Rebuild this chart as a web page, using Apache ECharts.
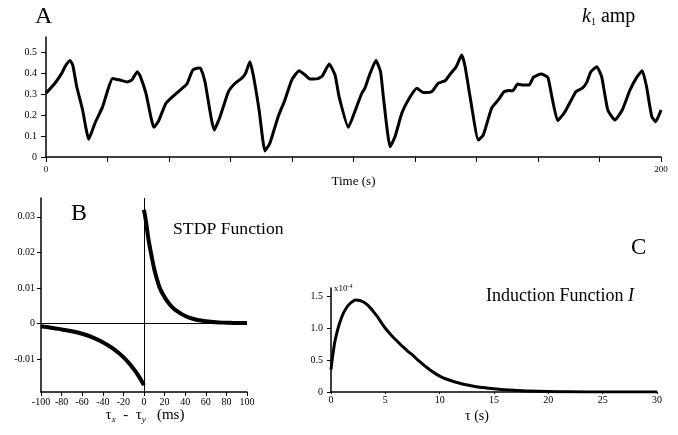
<!DOCTYPE html>
<html>
<head>
<meta charset="utf-8">
<script src="https://cdn.jsdelivr.net/npm/echarts@6/dist/echarts.min.js"></script>
<style>
  html, body { margin: 0; padding: 0; background: #fff; }
  #chart { width: 678px; height: 435px; }
</style>
</head>
<body>
<div id="chart"></div>
<script>
  // panel A: k1 amplitude over time
  var timeA = [0, 2.9, 5.1, 6.2, 7.8, 8.7, 10, 11.9, 13.9, 15.9, 18.4, 21.7, 24.1, 26.4, 27.9, 29.7, 30.6, 32.5, 35.1, 36.5,
    39, 41.4, 43.6, 45.8, 47.7, 49.5, 50.3, 51.7, 54.7, 56.6, 59.3, 61.5, 63.6, 64.9, 66.3, 67.4, 69.3, 71.2, 72.8, 75.5,
    77.7, 79.9, 82.3, 84, 85.9, 88.4, 89.9, 92.1, 94, 95.3, 98.3, 101, 102.7, 103.7, 105.4, 107.3, 108.8, 109.7, 111.9, 113.5,
    115.7, 117.8, 120.6, 122.7, 125.4, 127.6, 129.8, 131.4, 133.3, 135.2, 136.3, 137.9, 140.6, 142.2, 144.9, 147.1, 148.9, 150.5, 151.8, 153.4,
    155.2, 157.1, 158.5, 161, 163.2, 164.5, 166.4, 168.8, 172.3, 174.4, 175.8, 177.2, 179.1, 180.7, 182.7, 185, 187.4, 189.9, 192.1, 193.9,
    195.3, 197, 198.3, 200];
  var ampA = [0.305, 0.353, 0.40, 0.432, 0.461, 0.44, 0.336, 0.225, 0.085, 0.161, 0.24, 0.376, 0.368, 0.359, 0.368, 0.408, 0.388, 0.305, 0.142, 0.169,
    0.257, 0.292, 0.32, 0.349, 0.416, 0.426, 0.424, 0.36, 0.129, 0.193, 0.312, 0.353, 0.376, 0.40, 0.456, 0.392, 0.225, 0.029, 0.066, 0.193,
    0.273, 0.368, 0.413, 0.396, 0.373, 0.375, 0.388, 0.445, 0.392, 0.289, 0.142, 0.24, 0.305, 0.329, 0.40, 0.461, 0.408, 0.289, 0.049, 0.097,
    0.209, 0.273, 0.329, 0.308, 0.312, 0.353, 0.365, 0.396, 0.429, 0.488, 0.432, 0.289, 0.081, 0.105, 0.233, 0.273, 0.312, 0.318, 0.317, 0.349,
    0.344, 0.344, 0.381, 0.397, 0.381, 0.289, 0.174, 0.217, 0.312, 0.329, 0.356, 0.408, 0.432, 0.384, 0.225, 0.177, 0.225, 0.32, 0.381, 0.413,
    0.336, 0.193, 0.169, 0.225];
  var ticksA = [0, 0.1, 0.2, 0.3, 0.4, 0.5];

  // panel B: STDP function
  var lagNeg = [-100, -90, -80, -70, -60, -50, -40, -30, -20, -10, -5, 0];
  var stdpNeg = [-0.0008, -0.0012, -0.0017, -0.0022, -0.0029, -0.0039, -0.0053, -0.0071, -0.0095, -0.0128, -0.0149, -0.0174];
  var lagPos = [0, 2, 4, 6, 8, 10, 15, 20, 25, 30, 40, 50, 60, 70, 80, 90, 100];
  var stdpPos = [0.032, 0.0285, 0.0243, 0.021, 0.018, 0.0152, 0.0102, 0.0074, 0.0053, 0.0039, 0.0021, 0.0011, 0.0006, 0.0003, 0.0002, 0.0001, 0.0001];
  var ticksB = [-0.01, 0, 0.01, 0.02, 0.03];

  // panel C: induction function (x10^-4)
  var tauC = [0, 0.25, 0.5, 1, 1.5, 2, 2.3, 3, 4, 5, 6, 7, 7.5, 8, 9, 10, 11, 12, 13, 14, 15, 16, 17, 18, 20, 22, 25, 30];
  var indC = [0.35, 0.68, 0.9, 1.18, 1.34, 1.42, 1.44, 1.41, 1.24, 1.0, 0.81, 0.65, 0.58, 0.5, 0.36, 0.25, 0.18, 0.13, 0.095, 0.07,
    0.05, 0.035, 0.024, 0.016, 0.007, 0.003, 0.001, 0];
  var ticksC = [0, 0.5, 1.0, 1.5];

  var serif = "Liberation Serif";

  function pairs(xs, ys) {
    return xs.map(function (x, i) { return [x, ys[i]]; });
  }

  function axisBase(extra) {
    var base = {
      type: "value",
      splitLine: { show: false },
      axisLine: { show: true, onZero: false, lineStyle: { color: "#000", width: 1.5 } },
      axisTick: { show: true, length: 4, lineStyle: { color: "#000", width: 1 } },
      axisLabel: { color: "#000", fontFamily: serif, fontSize: 10, margin: 6 }
    };
    for (var k in extra) base[k] = extra[k];
    return base;
  }

  var chart = echarts.init(document.getElementById("chart"), null, { renderer: "canvas" });

  chart.setOption({
    animation: false,
    backgroundColor: "#fff",
    grid: [
      { left: 46, top: 37, width: 615, height: 120 },
      { left: 41, top: 198, width: 206, height: 194 },
      { left: 331, top: 288, width: 326, height: 104 }
    ],
    xAxis: [
      axisBase({
        gridIndex: 0, min: 0, max: 200, interval: 20,
        name: "Time (s)", nameLocation: "middle", nameGap: 15,
        nameTextStyle: { color: "#000", fontFamily: serif, fontSize: 13 },
        axisTick: { show: true, length: 5, lineStyle: { color: "#000" } },
        axisLabel: {
          color: "#000", fontFamily: serif, fontSize: 9, margin: 8,
          formatter: function (v) { return (v === 0 || v === 200) ? String(v) : ""; }
        }
      }),
      axisBase({
        gridIndex: 1, min: -100, max: 100, interval: 20,
        axisLabel: { color: "#000", fontFamily: serif, fontSize: 10, margin: 5 }
      }),
      axisBase({
        gridIndex: 2, min: 0, max: 30, interval: 5,
        axisTick: { show: true, length: 2, lineStyle: { color: "#000" } },
        axisLabel: { color: "#000", fontFamily: serif, fontSize: 10, margin: 3 }
      })
    ],
    yAxis: [
      axisBase({
        gridIndex: 0, min: 0, max: 0.574,
        axisTick: { show: true, length: 5, customValues: ticksA, lineStyle: { color: "#000" } },
        axisLabel: { color: "#000", fontFamily: serif, fontSize: 10, margin: 9, customValues: ticksA }
      }),
      axisBase({
        gridIndex: 1, min: -0.0193, max: 0.0353,
        axisTick: { show: true, length: 4, customValues: ticksB, lineStyle: { color: "#000" } },
        axisLabel: { color: "#000", fontFamily: serif, fontSize: 10, margin: 6, customValues: ticksB }
      }),
      axisBase({
        gridIndex: 2, min: 0, max: 1.63,
        axisTick: { show: true, length: 4, customValues: ticksC, lineStyle: { color: "#000" } },
        axisLabel: {
          color: "#000", fontFamily: serif, fontSize: 10, margin: 8, customValues: ticksC,
          formatter: function (v) { return v === 0 ? "0" : v.toFixed(1); }
        }
      })
    ],
    series: [
      {
        type: "line", xAxisIndex: 0, yAxisIndex: 0, data: pairs(timeA, ampA),
        showSymbol: false, smooth: 0.15, lineStyle: { color: "#000", width: 3 }
      },
      {
        type: "line", xAxisIndex: 1, yAxisIndex: 1, data: pairs(lagNeg, stdpNeg),
        showSymbol: false, smooth: 0.3, lineStyle: { color: "#000", width: 4 },
        markLine: {
          silent: true, symbol: "none", label: { show: false },
          lineStyle: { color: "#000", width: 1, type: "solid" },
          data: [{ yAxis: 0 }, { xAxis: 0 }]
        }
      },
      {
        type: "line", xAxisIndex: 1, yAxisIndex: 1, data: pairs(lagPos, stdpPos),
        showSymbol: false, smooth: 0.3, lineStyle: { color: "#000", width: 4 }
      },
      {
        type: "line", xAxisIndex: 2, yAxisIndex: 2, data: pairs(tauC, indC),
        showSymbol: false, smooth: 0.5, lineStyle: { color: "#000", width: 3 }
      }
    ],
    graphic: [
      { type: "text", x: 35, y: 17, style: { text: "A", fill: "#000", font: "24px " + serif, verticalAlign: "middle" } },
      {
        type: "text", x: 582, y: 17,
        style: {
          text: "{k|k}{s|1}{a| amp}", verticalAlign: "middle",
          rich: {
            k: { fontFamily: serif, fontSize: 20, fontStyle: "italic", color: "#000", lineHeight: 21 },
            s: { fontFamily: serif, fontSize: 10, color: "#000", verticalAlign: "bottom", lineHeight: 21 },
            a: { fontFamily: serif, fontSize: 20, color: "#000", lineHeight: 21 }
          }
        }
      },
      { type: "text", x: 71, y: 214, style: { text: "B", fill: "#000", font: "24px " + serif, verticalAlign: "middle" } },
      { type: "text", x: 173, y: 229, style: { text: "STDP Function", fill: "#000", font: "17.7px " + serif, verticalAlign: "middle" } },
      { type: "text", x: 631, y: 248, style: { text: "C", fill: "#000", font: "23px " + serif, verticalAlign: "middle" } },
      {
        type: "text", x: 486, y: 296,
        style: {
          text: "{a|Induction Function }{i|I}", verticalAlign: "middle",
          rich: {
            a: { fontFamily: serif, fontSize: 18, color: "#000" },
            i: { fontFamily: serif, fontSize: 18, fontStyle: "italic", color: "#000" }
          }
        }
      },
      {
        type: "text", x: 334, y: 289,
        style: {
          text: "{a|x10}{s|-4}", verticalAlign: "middle",
          rich: {
            a: { fontFamily: serif, fontSize: 9, color: "#000", lineHeight: 12 },
            s: { fontFamily: serif, fontSize: 6, color: "#000", verticalAlign: "top", lineHeight: 12 }
          }
        }
      },
      {
        type: "text", x: 145, y: 415,
        style: {
          text: "{a|τ}{s|x}{a|  -  τ}{s|y}{a|   (ms)}", align: "center", verticalAlign: "middle",
          rich: {
            a: { fontFamily: serif, fontSize: 15, color: "#000", lineHeight: 18 },
            s: { fontFamily: serif, fontSize: 9, fontStyle: "italic", color: "#000", verticalAlign: "bottom", lineHeight: 18 }
          }
        }
      },
      { type: "text", x: 477, y: 416, style: { text: "τ (s)", fill: "#000", font: "14px " + serif, align: "center", verticalAlign: "middle" } }
    ]
  });
</script>
</body>
</html>
